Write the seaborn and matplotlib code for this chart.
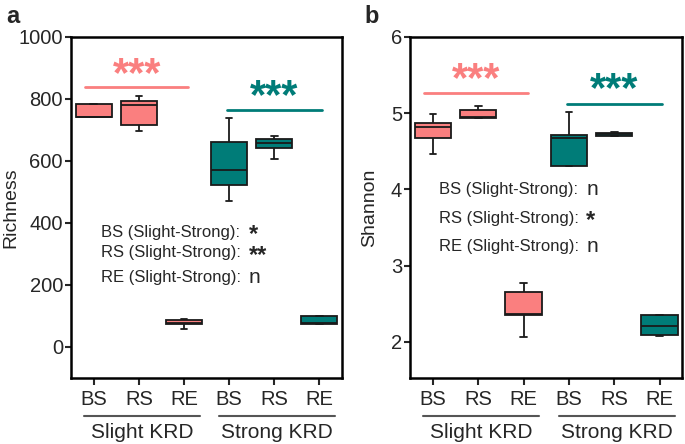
import numpy as np
import pandas as pd
import matplotlib
matplotlib.use("Agg")
import matplotlib.pyplot as plt
import matplotlib.transforms as mtransforms
import seaborn as sns

# ---------------- data ----------------
sites = ["BS", "RS", "RE"]
krd_levels = ["Slight KRD", "Strong KRD"]

# five values per box: low whisker, Q1, median, Q3, high whisker
rich_slight_bs = [741, 741, 741, 783, 783]
rich_slight_rs = [695, 715, 780, 793, 809]
rich_slight_re = [58, 74, 78, 87, 90]
rich_strong_bs = [472, 523, 572, 660, 738]
rich_strong_rs = [605, 640, 657, 670, 679]
rich_strong_re = [73, 75, 77, 100, 100]

shan_slight_bs = [4.46, 4.68, 4.82, 4.87, 4.99]
shan_slight_rs = [4.94, 4.94, 4.95, 5.04, 5.10]
shan_slight_re = [2.06, 2.36, 2.37, 2.66, 2.77]
shan_strong_bs = [4.31, 4.31, 4.67, 4.71, 5.01]
shan_strong_rs = [4.70, 4.70, 4.72, 4.74, 4.75]
shan_strong_re = [2.08, 2.09, 2.21, 2.36, 2.36]

rich_sig = ["*", "**", "n"]
shan_sig = ["n", "*", "n"]

colors = {"Slight KRD": "#FA7F7F", "Strong KRD": "#007C78"}


def build(values):
    rows = []
    for (krd, site), vals in zip(
        [(k, s) for k in krd_levels for s in sites], values
    ):
        for v in vals:
            rows.append({"group": f"{krd}|{site}", "krd": krd, "value": v})
    return pd.DataFrame(rows)


df_rich = build([rich_slight_bs, rich_slight_rs, rich_slight_re,
                 rich_strong_bs, rich_strong_rs, rich_strong_re])
df_shan = build([shan_slight_bs, shan_slight_rs, shan_slight_re,
                 shan_strong_bs, shan_strong_rs, shan_strong_re])

order = [f"{k}|{s}" for k in krd_levels for s in sites]

sns.set_theme(style="white")
plt.rcParams["font.family"] = ["Liberation Sans", "DejaVu Sans"]

fig = plt.figure(figsize=(6.85, 4.44), dpi=100)
ax_a = fig.add_axes([0.104, 0.149, 0.395, 0.768])
ax_b = fig.add_axes([0.599, 0.149, 0.397, 0.768])


def draw_panel(ax, df, ylim, yticks, ylabel, label_xpos, letter, letter_x,
               sig_y, stars_y, text_y, sigs, label_x, sym_x):
    sns.boxplot(
        data=df, x="group", y="value", hue="krd", order=order,
        palette=colors, saturation=1, width=0.8, whis=(0, 100),
        dodge=False, linecolor="#1a1a1a", linewidth=1.3, legend=False,
        ax=ax, capwidths=0.15,
    )
    ax.set_xlim(-0.5, 5.5)
    ax.set_ylim(*ylim)
    ax.set_yticks(yticks)
    ax.set_xticks(range(6))
    ax.set_xticklabels(sites * 2, fontsize=14.5)
    ax.tick_params(axis="y", labelsize=14.5, length=4, width=1.5, pad=2,
                   left=True)
    ax.tick_params(axis="x", length=5, width=1.5, pad=4, bottom=True)
    ax.set_xlabel("")
    ax.set_ylabel(ylabel, fontsize=14)
    ax.yaxis.set_label_coords(label_xpos, 0.5)
    for sp in ax.spines.values():
        sp.set_linewidth(1.8)
        sp.set_color("black")

    # significance bars between groups
    for (x0, x1), yb, ys, krd in zip([(-0.2, 2.1), (2.95, 5.05)], sig_y,
                                     stars_y, krd_levels):
        ax.plot([x0, x1], [yb, yb], color=colors[krd], lw=2)
        ax.text((x0 + x1) / 2, ys, "***", color=colors[krd], fontsize=30,
                fontweight="bold", ha="center", va="center")

    # within-site comparisons
    for site, ty, s in zip(sites, text_y, sigs):
        ax.text(label_x, ty, f"{site} (Slight-Strong):", fontsize=12,
                ha="left", va="center")
        if s == "n":
            ax.text(sym_x, ty, s, fontsize=15, ha="left", va="center")
        else:
            ax.text(sym_x, ty, s, fontsize=17, fontweight="bold",
                    ha="left", va="center_baseline")

    # group labels below the tick labels
    trans = mtransforms.blended_transform_factory(ax.transData, ax.transAxes)
    for (x0, x1), krd in zip([(-0.22, 2.35), (2.77, 5.35)], krd_levels):
        ax.plot([x0, x1], [-0.112, -0.112], color="#555555", lw=1.5,
                transform=trans, clip_on=False)
        ax.text((x0 + x1) / 2, -0.16, krd, fontsize=15, ha="center",
                va="center", transform=trans)

    ax.text(letter_x, 1.06, letter, fontsize=17, fontweight="bold",
            transform=ax.transAxes, ha="left", va="center")


draw_panel(ax_a, df_rich, (-100, 1000), [0, 200, 400, 600, 800, 1000],
           "Richness", -0.19, "a", -0.24, sig_y=[838, 763],
           stars_y=[878, 805], text_y=[370, 303, 223], sigs=rich_sig,
           label_x=0.15, sym_x=3.43)

draw_panel(ax_b, df_shan, (1.53, 6), [2, 3, 4, 5, 6],
           "Shannon", -0.12, "b", -0.17, sig_y=[5.26, 5.12],
           stars_y=[5.43, 5.3], text_y=[4.0, 3.62, 3.25], sigs=shan_sig,
           label_x=0.13, sym_x=3.38)

fig.savefig("out.png", dpi=100)
